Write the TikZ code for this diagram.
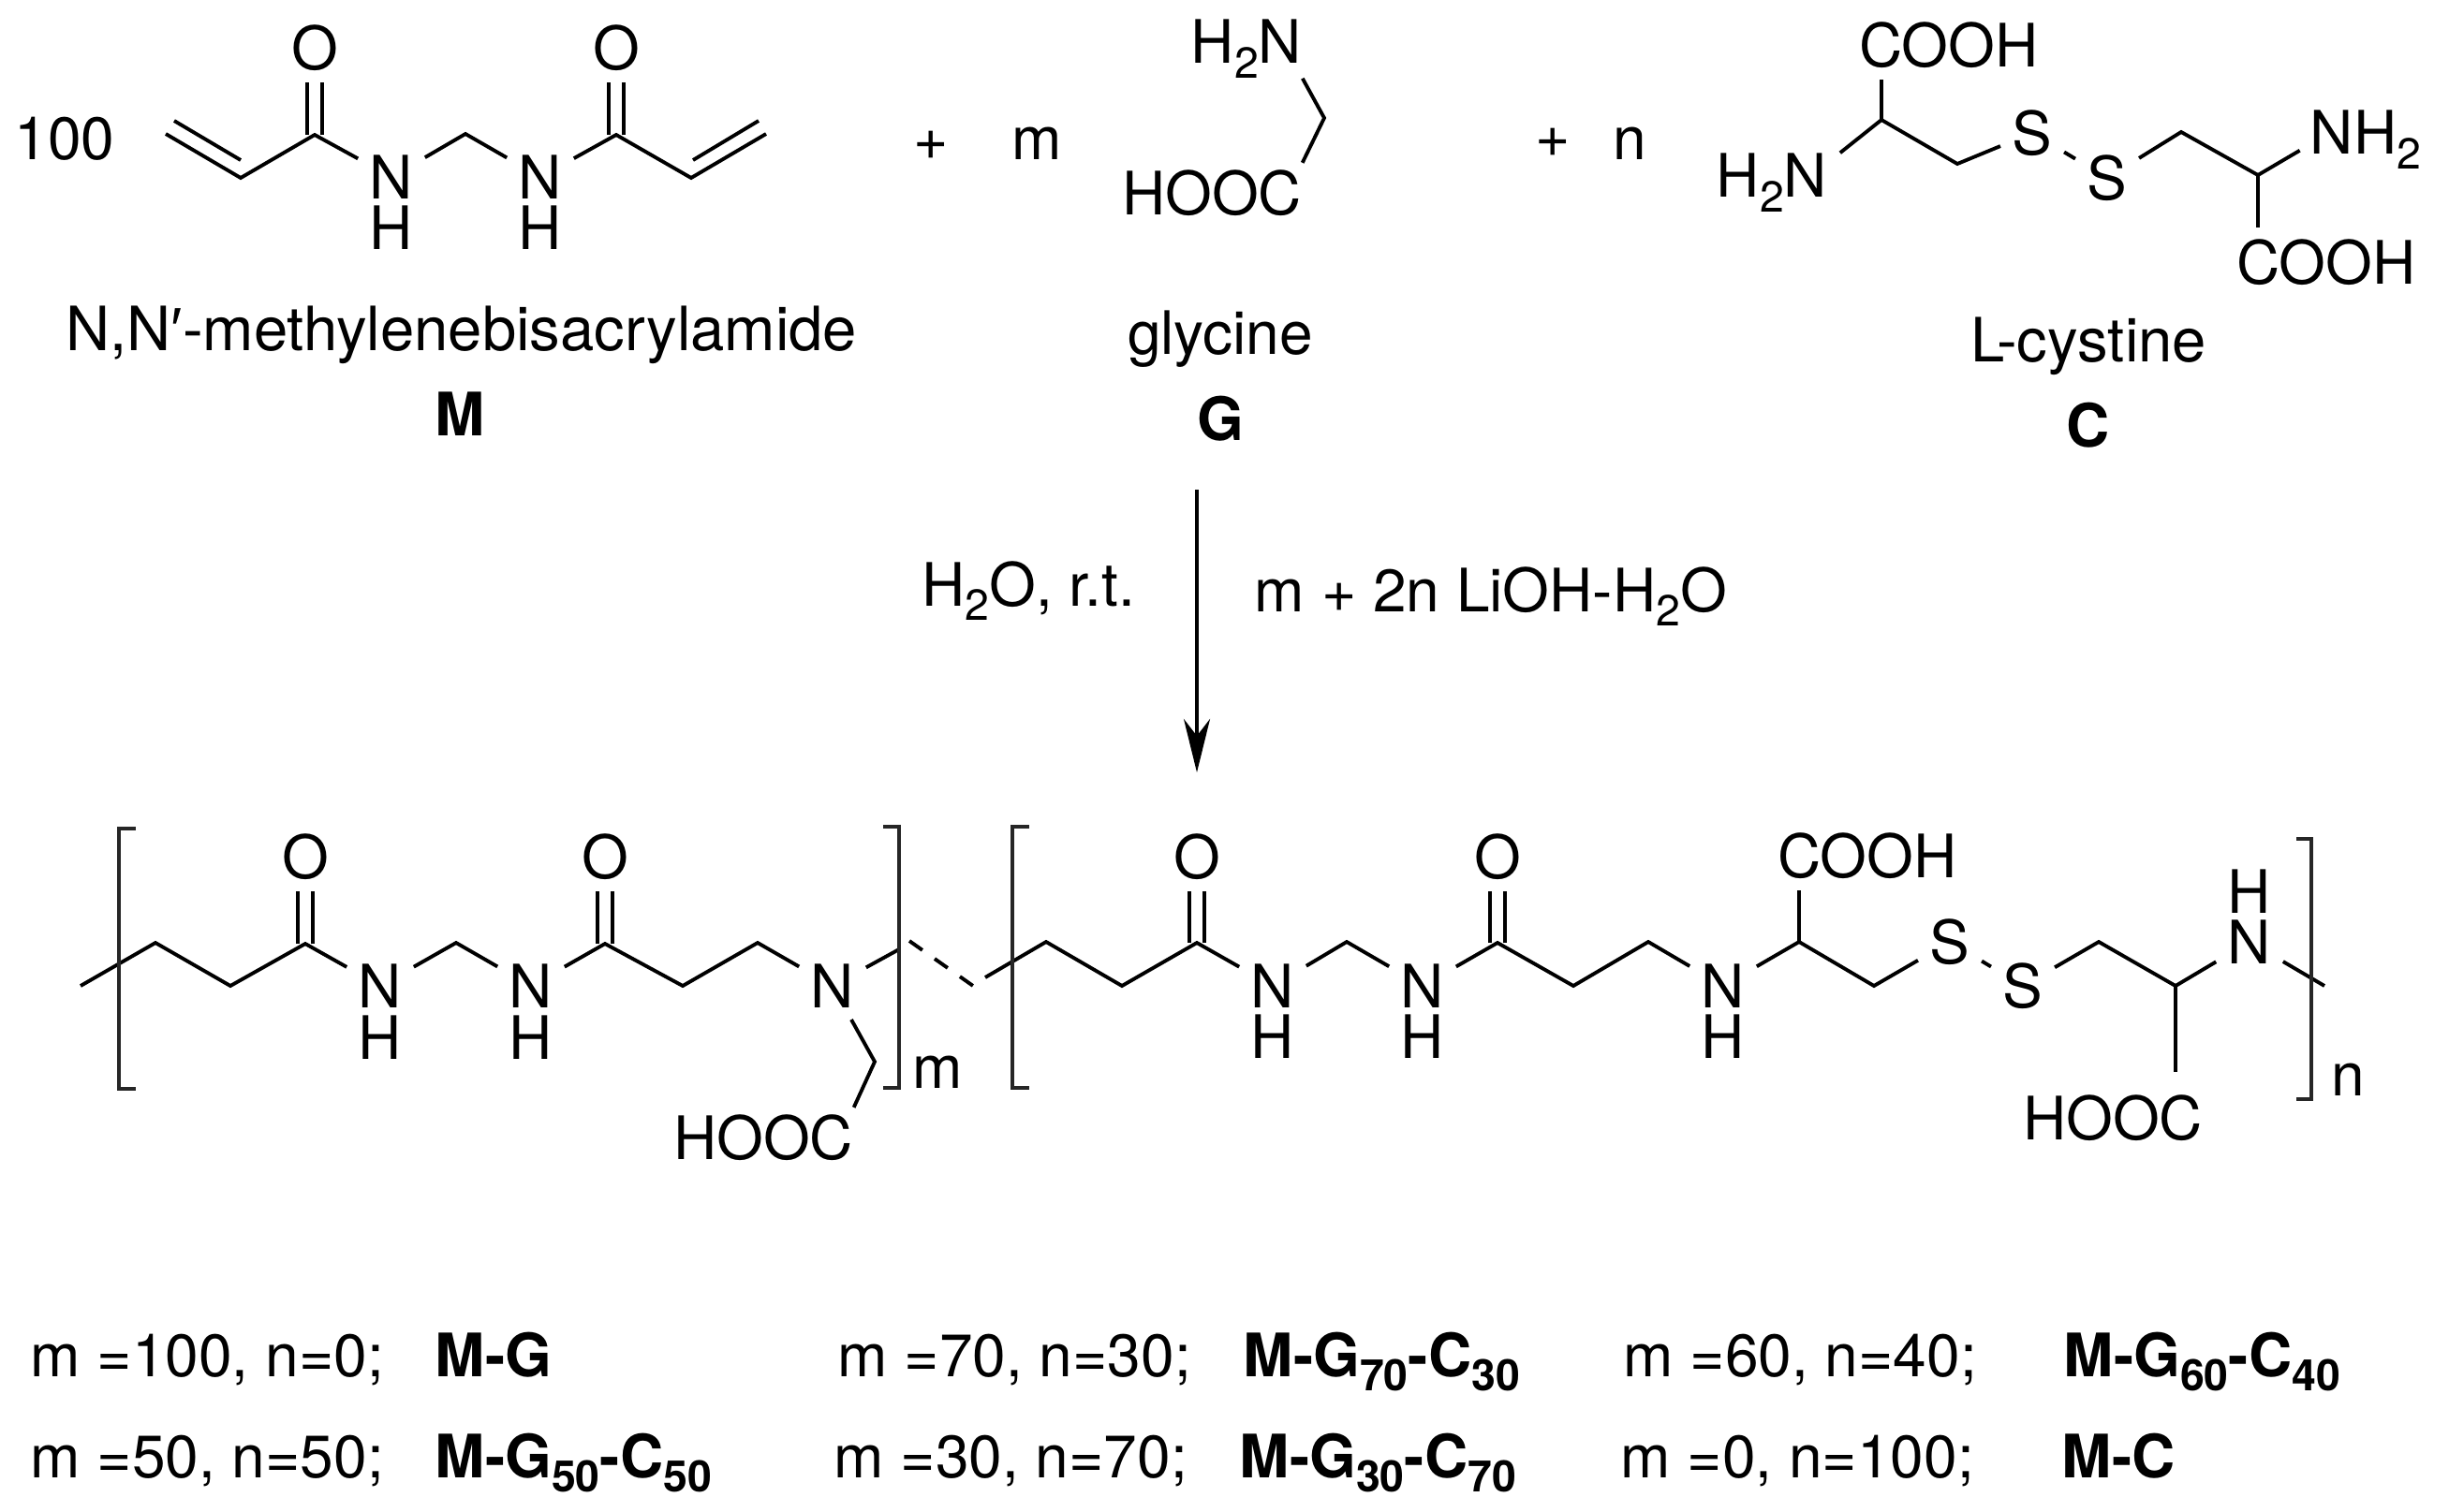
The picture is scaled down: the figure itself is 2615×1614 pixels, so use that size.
\documentclass[tikz,border=0pt]{standalone}
\usepackage{fontspec}
\setmainfont{TeX Gyre Heros}
\newfontfamily\primefont{Liberation Sans}
\usetikzlibrary{arrows.meta}
\newcommand{\sbs}[1]{\raisebox{-4.4pt}{\fontsize{13.2}{14}\selectfont #1}}
\tikzset{
    base/.style={font=\fontsize{18.2}{21}\selectfont, text=black},
    atom/.style={base, inner sep=0.12cm},
    chemgroup/.style={base, inner sep=0.12cm},
    caption/.style={base, inner sep=0, anchor=base},
    entry/.style={base, inner sep=0, anchor=base west},
    boldname/.style={caption, font=\fontsize{18.2}{21}\selectfont\bfseries},
    compound/.style={entry, font=\fontsize{18.2}{21}\selectfont\bfseries},
    bond/.style={line width=1.1pt, color=black},
    dbl/.style={line width=1.1pt, color=black, double=white, double distance=3.6pt},
    bracket/.style={line width=1.1pt, color=black!85},
    flow/.style={-{Stealth[length=0.57cm, width=0.28cm, inset=0.18cm]}, line width=1.1pt}
}
\begin{document}
\begin{tikzpicture}[x=0.01cm, y=-0.01cm]
  \useasboundingbox (0,0) rectangle (2615,1614);

  % monomer M
  \node[base, inner sep=0] (hundred) at (69,148) {100};
  \coordinate (mA) at (177,143);
  \coordinate (mB) at (186,129);
  \coordinate (mC) at (257,190);
  \coordinate (mD) at (257,171);
  \coordinate (mE) at (336,144);
  \coordinate (mF) at (497,143);
  \coordinate (mG) at (658,144);
  \coordinate (mH) at (738,190);
  \coordinate (mI) at (740,171);
  \coordinate (mJ) at (818,143);
  \coordinate (mK) at (810,129);
  \node[atom] (mO1) at (336,51) {O};
  \node[atom] (mO2) at (658,51) {O};
  \node[atom] (mN1) at (418,189) {N};
  \node[atom] (mN2) at (577,189) {N};
  \node[base, inner sep=0] (mH1) at (418,243) {H};
  \node[base, inner sep=0] (mH2) at (577,243) {H};
  \draw[dbl] (mE) -- (mO1);
  \draw[dbl] (mG) -- (mO2);
  \draw[bond] (mA) -- (mC) -- (mE) -- (mN1) -- (mF) -- (mN2) -- (mG) -- (mH) -- (mJ);
  \draw[bond] (mB) -- (mD);
  \draw[bond] (mI) -- (mK);
  \node[caption, font=\fontsize{18.55}{21}\selectfont] (mName) at (493,374) {N,N{\primefont ′}-methylenebisacrylamide};
  \node[boldname] (mBold) at (491,465) {M};

  \node[base, inner sep=0] (plusA) at (994,155) {+};
  \node[base, inner sep=0, anchor=base] (mCount) at (1107,170) {m};

  % glycine G
  \coordinate (gA) at (1414,126);
  \node[chemgroup, inner sep=0] (gAmine) at (1331,52) {H\sbs{2}N};
  \node[chemgroup, inner sep=0] (gAcid) at (1294,206) {HOOC};
  \draw[bond] (gAmine.south east) -- (gA) -- ([yshift=2pt]gAcid.north east);
  \node[caption] (gName) at (1303,378) {glycine};
  \node[boldname] (gBold) at (1303,470) {G};

  \node[base, inner sep=0] (plusB) at (1658,152) {+};
  \node[base, inner sep=0, anchor=base] (nCount) at (1740,170) {n};

  % cystine C
  \coordinate (cA) at (2009,128);
  \coordinate (cB) at (2090,175);
  \coordinate (cC) at (2329,141);
  \coordinate (cD) at (2411,187);
  \node[chemgroup] (cAcid1) at (2081,48) {COOH};
  \node[chemgroup] (cAcid2) at (2484,280) {COOH};
  \node[chemgroup, inner sep=0] (cAmine1) at (1892,195) {H\sbs{2}N};
  \node[chemgroup, inner sep=0] (cAmine2) at (2526,149) {NH\sbs{2}};
  \node[atom] (cS1) at (2170,142) {S};
  \node[atom] (cS2) at (2250,190) {S};
  \draw[bond] ([xshift=3.7pt]cAmine1.north east) -- (cA) -- (cB) -- (cS1) -- (cS2) -- (cC) -- (cD) -- ([xshift=-3pt, yshift=5.7pt]cAmine2.south west);
  \draw[bond] (cA) -- (cA |- cAcid1.south);
  \draw[bond] (cD) -- (cD |- cAcid2.north);
  \node[caption, font=\fontsize{18.55}{21}\selectfont] (cName) at (2230,386) {L-cystine};
  \node[boldname] (cBold) at (2230,477) {C};

  % reaction arrow
  \coordinate (flowA) at (1278,523);
  \coordinate (flowB) at (1278,825);
  \draw[flow] (flowA) -- (flowB);
  \node[caption] (solvent) at (1098,647) {H\sbs{2}O, r.t.};
  \node[caption] (reagent) at (1592,653) {m + 2n LiOH-H\sbs{2}O};

  % polymer, first block
  \coordinate (pA) at (86,1053);
  \coordinate (pB) at (166,1007);
  \coordinate (pC) at (246,1053);
  \coordinate (pD) at (326,1008);
  \coordinate (pE) at (487,1007);
  \coordinate (pF) at (646,1008);
  \coordinate (pG) at (729,1053);
  \coordinate (pH) at (809,1007);
  \coordinate (pI) at (960,1014);
  \coordinate (pJ) at (934,1134);
  \node[atom] (pO1) at (326,915) {O};
  \node[atom] (pO2) at (646,915) {O};
  \node[atom] (pN1) at (406,1053) {N};
  \node[atom] (pN2) at (567,1053) {N};
  \node[atom] (pN3) at (889,1053) {N};
  \node[base, inner sep=0] (pH1) at (406,1108) {H};
  \node[base, inner sep=0] (pH2) at (567,1108) {H};
  \node[chemgroup, inner sep=0] (pAcid) at (815,1215) {HOOC};
  \draw[dbl] (pD) -- (pO1);
  \draw[dbl] (pF) -- (pO2);
  \draw[bond] (pA) -- (pB) -- (pC) -- (pD) -- (pN1) -- (pE) -- (pN2) -- (pF) -- (pG) -- (pH) -- (pN3) -- (pI);
  \draw[bond] (pN3) -- (pJ) -- ([yshift=2pt]pAcid.north east);
  \draw[bracket] (145,885) -- (127,885) -- (127,1163) -- (145,1163);
  \draw[bracket] (943,883) -- (960,883) -- (960,1162) -- (943,1162);
  \node[base, inner sep=0, anchor=base] (pM) at (1001,1162) {m};

  % link between the blocks
  \coordinate (linkA) at (971,1005);
  \coordinate (linkB) at (1039,1053);
  \draw[bond, dash pattern=on 0.17cm off 0.16cm] (linkA) -- (linkB);

  % polymer, second block
  \coordinate (qA) at (1052,1044);
  \coordinate (qB) at (1117,1006);
  \coordinate (qC) at (1198,1053);
  \coordinate (qD) at (1278,1007);
  \coordinate (qE) at (1438,1006);
  \coordinate (qF) at (1599,1007);
  \coordinate (qG) at (1680,1053);
  \coordinate (qH) at (1760,1006);
  \coordinate (qI) at (1921,1006);
  \coordinate (qJ) at (2001,1053);
  \coordinate (qK) at (2241,1006);
  \coordinate (qL) at (2323,1053);
  \coordinate (qM) at (2482,1053);
  \coordinate (qN) at (2323,1145);
  \node[atom] (qO1) at (1278,915) {O};
  \node[atom] (qO2) at (1599,915) {O};
  \node[atom] (qN1) at (1359,1053) {N};
  \node[atom] (qN2) at (1519,1053) {N};
  \node[atom] (qN3) at (1840,1053) {N};
  \node[atom] (qN4) at (2402,1006) {N};
  \node[atom] (qS1) at (2082,1006) {S};
  \node[atom] (qS2) at (2160,1053) {S};
  \node[base, inner sep=0] (qH1) at (1359,1107) {H};
  \node[base, inner sep=0] (qH2) at (1519,1107) {H};
  \node[base, inner sep=0] (qH3) at (1840,1107) {H};
  \node[base, inner sep=0] (qH4) at (2402,952) {H};
  \node[chemgroup] (qAcid1) at (1994,914) {COOH};
  \node[chemgroup, inner sep=0] (qAcid2) at (2256,1194) {HOOC};
  \draw[dbl] (qD) -- (qO1);
  \draw[dbl] (qF) -- (qO2);
  \draw[bond] (qA) -- (qB) -- (qC) -- (qD) -- (qN1) -- (qE) -- (qN2) -- (qF) -- (qG) -- (qH) -- (qN3) -- (qI) -- (qJ) -- (qS1) -- (qS2) -- (qK) -- (qL) -- (qN4) -- (qM);
  \draw[bond] (qI) -- (qI |- qAcid1.south);
  \draw[bond] (qL) -- (qN);
  \draw[bracket] (1099,883) -- (1081,883) -- (1081,1162) -- (1099,1162);
  \draw[bracket] (2452,896) -- (2468,896) -- (2468,1174) -- (2452,1174);
  \node[base, inner sep=0, anchor=base] (qNn) at (2507,1170) {n};

  % table of compositions
  \node[entry] (rowA) at (32,1470) {m =100, n=0;};
  \node[compound] (nameA) at (464,1470) {M-G};
  \node[entry] (rowB) at (894,1470) {m =70, n=30;};
  \node[compound] (nameB) at (1327,1470) {M-G\sbs{70}-C\sbs{30}};
  \node[entry] (rowC) at (1733,1470) {m =60, n=40;};
  \node[compound] (nameC) at (2203,1470) {M-G\sbs{60}-C\sbs{40}};
  \node[entry] (rowD) at (32,1578) {m =50, n=50;};
  \node[compound] (nameD) at (464,1578) {M-G\sbs{50}-C\sbs{50}};
  \node[entry] (rowE) at (890,1578) {m =30, n=70;};
  \node[compound] (nameE) at (1323,1578) {M-G\sbs{30}-C\sbs{70}};
  \node[entry] (rowF) at (1730,1578) {m =0, n=100;};
  \node[compound] (nameF) at (2201,1578) {M-C};
\end{tikzpicture}
\end{document}
